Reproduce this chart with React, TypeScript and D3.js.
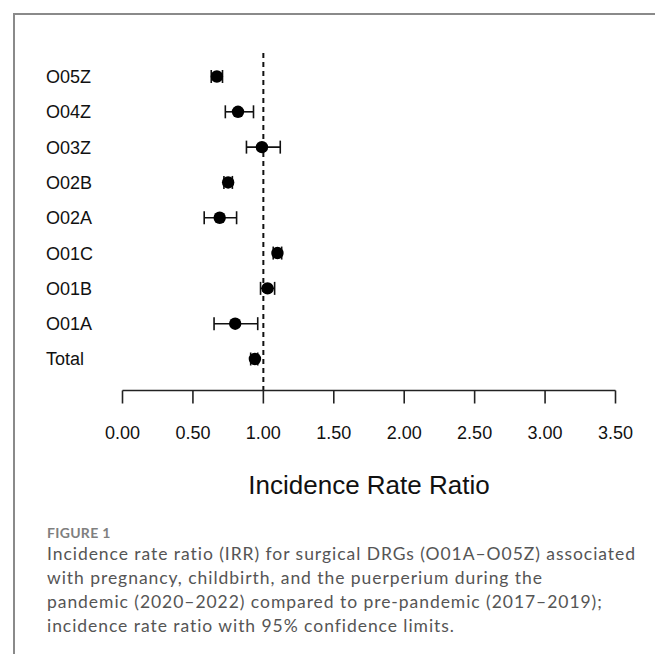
import React from "react";
import * as d3 from "d3";

const categories = ["O05Z", "O04Z", "O03Z", "O02B", "O02A", "O01C", "O01B", "O01A", "Total"];
const irr = [0.67, 0.82, 0.99, 0.75, 0.69, 1.10, 1.03, 0.80, 0.94];
const lower = [0.63, 0.73, 0.88, 0.72, 0.58, 1.07, 0.98, 0.65, 0.91];
const upper = [0.71, 0.93, 1.12, 0.78, 0.81, 1.13, 1.08, 0.96, 0.96];
const tickValues = [0, 0.5, 1, 1.5, 2, 2.5, 3, 3.5];
const xTitle = "Incidence Rate Ratio";
const figureLabel = "FIGURE 1";
const captionLines = [
  "Incidence rate ratio (IRR) for surgical DRGs (O01A\u2013O05Z) associated",
  "with pregnancy, childbirth, and the puerperium during the",
  "pandemic (2020\u20132022) compared to pre-pandemic (2017\u20132019);",
  "incidence rate ratio with 95% confidence limits.",
];

export default function App() {
  const W = 655, H = 654;
  const x = d3.scaleLinear().domain([0, 3.5]).range([122.5, 615.5]);
  const y = d3.scalePoint<string>().domain(categories).range([76.5, 359]);
  const axisY = 390.5;
  const font = "'Liberation Sans', Arial, sans-serif";
  const capFont = "Lato, 'Open Sans', sans-serif";
  return (
    <svg width={W} height={H} style={{ position: "absolute", left: 0, top: 0, background: "#fff" }}>
      {/* frame */}
      <line x1={14} y1={14} x2={W} y2={14} stroke="#8a8a8a" strokeWidth={2} />
      <line x1={14} y1={13} x2={14} y2={H} stroke="#8a8a8a" strokeWidth={2} />
      {/* reference line */}
      <line x1={x(1)} x2={x(1)} y1={53} y2={axisY} stroke="#111" strokeWidth={2} strokeDasharray="5,4" />
      {/* rows */}
      {categories.map((c, i) => {
        const cy = y(c)!;
        return (
          <g key={c}>
            <text x={46} y={cy} dy="0.36em" fontFamily={font} fontSize={18} fill="#111">{c}</text>
            <line x1={x(lower[i])} x2={x(upper[i])} y1={cy} y2={cy} stroke="#111" strokeWidth={1.6} />
            <line x1={x(lower[i])} x2={x(lower[i])} y1={cy - 6.5} y2={cy + 6.5} stroke="#111" strokeWidth={1.6} />
            <line x1={x(upper[i])} x2={x(upper[i])} y1={cy - 6.5} y2={cy + 6.5} stroke="#111" strokeWidth={1.6} />
            <circle cx={x(irr[i])} cy={cy} r={6.2} fill="#000" />
          </g>
        );
      })}
      {/* x axis */}
      <line x1={x(0)} x2={x(3.5)} y1={axisY} y2={axisY} stroke="#222" strokeWidth={1.6} />
      {tickValues.map((t) => (
        <g key={t}>
          <line x1={x(t)} x2={x(t)} y1={axisY} y2={axisY + 13} stroke="#222" strokeWidth={1.6} />
          <text x={x(t)} y={432.5} dy="0.36em" textAnchor="middle" fontFamily={font} fontSize={18} fill="#111">
            {d3.format(".2f")(t)}
          </text>
        </g>
      ))}
      <text x={(x(0) + x(3.5)) / 2} y={485} dy="0.36em" textAnchor="middle" fontFamily={font} fontSize={26} fill="#111">
        {xTitle}
      </text>
      {/* caption */}
      <text x={47} y={538} fontFamily={capFont} fontSize={14} fontWeight={700} fill="#7f7f7f" letterSpacing={0.3}>{figureLabel}</text>
      {captionLines.map((l, i) => (
        <text key={i} x={47} y={560 + i * 24} fontFamily={capFont} fontSize={17.5} letterSpacing={0.95} fill="#555">{l}</text>
      ))}
    </svg>
  );
}
